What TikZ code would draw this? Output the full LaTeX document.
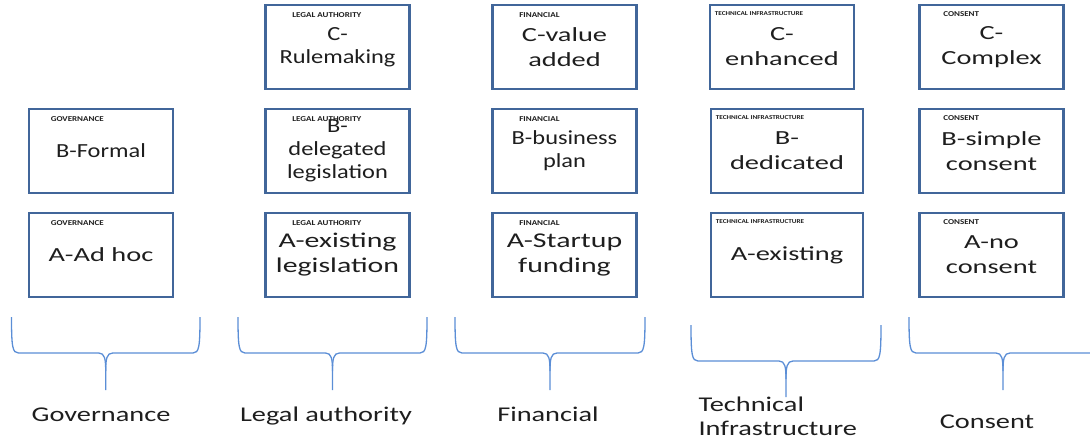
\documentclass[tikz,border=0pt]{standalone}
\usepackage{fontspec}
\setmainfont{Carlito}[FakeStretch=1.22]
\newfontfamily\wideface{Carlito}[FakeStretch=1.42]
\newfontfamily\tagfont{Carlito}[FakeStretch=1.2]
\newfontfamily\groupfont{Carlito}[FakeStretch=1.35]
\usepackage{xcolor}
\usetikzlibrary{positioning}
\definecolor{box_blue}{HTML}{41669A}
\definecolor{brace_blue}{HTML}{5B8ED6}
\definecolor{ink}{HTML}{1E1E1E}

% left x, right x, tip x, top y, bar y, tip y
\newcommand{\groupbrace}[6]{%
  \draw[brace] (#1,#4) .. controls (#1,#5-6) and (#1+1,#5) .. (#1+7,#5) -- (#3-7,#5)
    .. controls (#3-1,#5) and (#3,#5+6) .. (#3,#5+18) -- (#3,#6);
  \draw[brace] (#3,#5+18) .. controls (#3,#5+6) and (#3+1,#5) .. (#3+7,#5) -- (#2-7,#5)
    .. controls (#2-1,#5) and (#2,#5-6) .. (#2,#4);
}

\begin{document}
\begin{tikzpicture}[x=1pt,y=-1pt,
    choice/.style={draw=box_blue, line width=2.8pt, minimum width=144pt, minimum height=84pt,
      align=center, text=ink, inner sep=2pt, font=\fontsize{20}{23}\selectfont},
    wide/.style={font=\wideface\fontsize{20}{25}\selectfont},
    widebig/.style={font=\wideface\fontsize{21}{25}\selectfont},
    tag/.style={anchor=west, text=ink, inner sep=0pt, font=\tagfont\bfseries\fontsize{7.5}{8}\selectfont},
    smalltag/.style={tag, font=\tagfont\bfseries\fontsize{6}{7}\selectfont},
    group/.style={anchor=base, text=ink, font=\groupfont\fontsize{21}{24}\selectfont},
    brace/.style={draw=brace_blue, line width=1.3pt}]
  \useasboundingbox (0,0) rectangle (1090,440);
  \clip (0,0) rectangle (1090,440);

  % governance
  \node[choice] (govB) at (101,151) {B-Formal};
  \node[tag] (govBtag) at ([shift={(23,11)}]govB.north west) {GOVERNANCE};
  \node[choice, wide] (govA) at (101,255) {A-Ad hoc};
  \node[tag] (govAtag) at ([shift={(23,11)}]govA.north west) {GOVERNANCE};

  % legal authority
  \node[choice] (legC) at (337.5,47) {C-\\Rulemaking};
  \node[tag] (legCtag) at ([shift={(28,11)}]legC.north west) {LEGAL AUTHORITY};
  \node[choice] (legB) at (337.5,151) {B-\\delegated\\legislation};
  \node[tag] (legBtag) at ([shift={(28,11)}]legB.north west) {LEGAL AUTHORITY};
  \node[choice, widebig] (legA) at (337.5,255) {A-existing\\legislation};
  \node[tag] (legAtag) at ([shift={(28,11)}]legA.north west) {LEGAL AUTHORITY};

  % financial
  \node[choice, wide] (finC) at (564.5,47) {C-value\\added};
  \node[tag] (finCtag) at ([shift={(28,11)}]finC.north west) {FINANCIAL};
  \node[choice] (finB) at (564.5,151) {B-business\\plan};
  \node[tag] (finBtag) at ([shift={(28,11)}]finB.north west) {FINANCIAL};
  \node[choice, widebig] (finA) at (564.5,255) {A-Startup\\funding};
  \node[tag] (finAtag) at ([shift={(28,11)}]finA.north west) {FINANCIAL};

  % technical infrastructure
  \node[choice, wide] (tecC) at (782,47) {C-\\enhanced};
  \node[smalltag] (tecCtag) at ([shift={(6,10)}]tecC.north west) {TECHNICAL INFRASTRUCTURE};
  \node[choice, wide, minimum width=152pt] (tecB) at (787,151) {B-\\dedicated};
  \node[smalltag] (tecBtag) at ([shift={(6,10)}]tecB.north west) {TECHNICAL INFRASTRUCTURE};
  \node[choice, wide, minimum width=152pt] (tecA) at (787,255) {A-existing};
  \node[smalltag] (tecAtag) at ([shift={(6,10)}]tecA.north west) {TECHNICAL INFRASTRUCTURE};

  % consent
  \node[choice, wide] (conC) at (991.5,47) {C-\\Complex};
  \node[tag] (conCtag) at ([shift={(25,10)}]conC.north west) {CONSENT};
  \node[choice, wide] (conB) at (991.5,151) {B-simple\\consent};
  \node[tag] (conBtag) at ([shift={(25,10)}]conB.north west) {CONSENT};
  \node[choice, wide] (conA) at (991.5,255) {A-no\\consent};
  \node[tag] (conAtag) at ([shift={(25,10)}]conA.north west) {CONSENT};

  % braces and group names
  \groupbrace{11.5}{200}{105.7}{317}{353}{390}
  \groupbrace{238}{427}{332.5}{317}{353}{390}
  \groupbrace{455}{645}{550}{317}{353}{390}
  \groupbrace{691}{881}{786}{325}{361}{397}
  \groupbrace{909}{1097}{1003}{317}{353}{390}

  \node[group] (govname) at (101,421) {Governance};
  \node[group] (legname) at (326,421) {Legal authority};
  \node[group] (finname) at (548,421) {Financial};
  \node[group, anchor=west, align=left] (tecname) at (695,416) {Technical\\Infrastructure};
  \node[group] (conname) at (987,428) {Consent};
\end{tikzpicture}
\end{document}
